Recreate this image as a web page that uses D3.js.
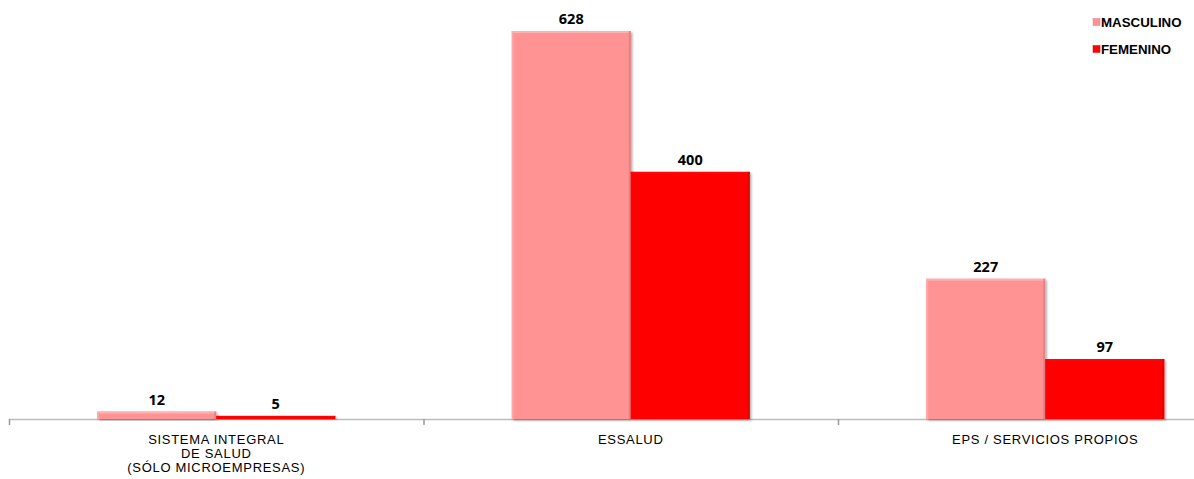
<!DOCTYPE html>
<html>
<head>
<meta charset="utf-8">
<script src="https://cdn.jsdelivr.net/npm/d3@7"></script>
<style>
  html, body { margin: 0; padding: 0; background: #fff; }
  svg { display: block; }
</style>
</head>
<body>
<svg id="chart" width="1194" height="479"></svg>
<script>
const categories = [["SISTEMA INTEGRAL", "DE SALUD", "(SÓLO MICROEMPRESAS)"], ["ESSALUD"], ["EPS / SERVICIOS PROPIOS"]];
const seriesNames = ["MASCULINO", "FEMENINO"];
const masculino = [12, 628, 227];
const femenino = [5, 400, 97];
const colors = ["#FF9393", "#FE0404"];

const svg = d3.select("#chart");
const W = 1194, H = 479;
const baseY = 419;

const catKeys = categories.map((c, i) => i);
const x = d3.scaleBand().domain(catKeys).range([9, 1252.5]).paddingInner(0).paddingOuter(0);
const y = d3.scaleLinear().domain([0, 628]).range([baseY, 31]);
const inner = d3.scaleBand().domain([0, 1]).range([0, 238]);

const defs = svg.append("defs");
const filt = defs.append("filter").attr("id", "shadow").attr("x", "-10%").attr("y", "-10%").attr("width", "130%").attr("height", "130%");
filt.append("feDropShadow").attr("dx", 1.5).attr("dy", 1.5).attr("stdDeviation", 1.2).attr("flood-color", "#000").attr("flood-opacity", 0.35);

// axis
const axisG = svg.append("g");
axisG.append("line").attr("x1", 9).attr("x2", W).attr("y1", baseY + 0.5).attr("y2", baseY + 0.5)
  .attr("stroke", "#bdbdbd").attr("stroke-width", 1.5);
const tickPos = catKeys.map(k => x(k));
axisG.selectAll("line.tick").data(tickPos).enter().append("line")
  .attr("x1", d => d + 0.5).attr("x2", d => d + 0.5).attr("y1", baseY).attr("y2", baseY + 6)
  .attr("stroke", "#9a9a9a").attr("stroke-width", 1.5);

const data = [];
catKeys.forEach(k => {
  [masculino, femenino].forEach((arr, s) => data.push({ k, s, v: arr[k] }));
});

const groupOffset = (x.bandwidth() - 238) / 2;

const bars = svg.append("g").selectAll("g.bar").data(data).enter().append("g").attr("class", "bar");
bars.each(function(d) {
  const g = d3.select(this);
  const bx = x(d.k) + groupOffset + inner(d.s);
  const by = y(d.v);
  const bw = inner.bandwidth();
  const bh = Math.max(baseY - by, 2);
  const top = baseY - bh;
  g.append("rect").attr("x", bx).attr("y", top).attr("width", bw).attr("height", bh)
    .attr("fill", colors[d.s]).attr("filter", "url(#shadow)");
  const lighter = d3.color(colors[d.s]).brighter(0.5);
  const darker = d3.color(colors[d.s]).darker(0.6);
  const b = Math.min(2, bh / 3);
  g.append("rect").attr("x", bx).attr("y", top).attr("width", bw).attr("height", b).attr("fill", lighter);
  g.append("rect").attr("x", bx).attr("y", top).attr("width", b).attr("height", bh).attr("fill", lighter).attr("opacity", 0.6);
  g.append("rect").attr("x", bx + bw - b).attr("y", top).attr("width", b).attr("height", bh).attr("fill", darker).attr("opacity", 0.6);
  g.append("text").attr("x", bx + bw / 2).attr("y", top - 7)
    .attr("text-anchor", "middle").attr("font-family", "'Open Sans', 'Liberation Sans', sans-serif")
    .attr("font-weight", "bold").attr("font-size", 14.5).attr("fill", "#000").text(d.v);
});

// category labels: one text element per line
const labelLines = [];
catKeys.forEach(k => categories[k].forEach((line, i) => labelLines.push({ k, i, line })));
svg.append("g").selectAll("text.cat").data(labelLines).enter().append("text")
  .attr("class", "cat")
  .attr("x", d => x(d.k) + groupOffset + 119)
  .attr("y", d => 443.5 + d.i * 14)
  .attr("text-anchor", "middle")
  .attr("font-family", "'Liberation Sans', Arial, sans-serif").attr("font-size", 13)
  .attr("letter-spacing", 0.7).attr("fill", "#000")
  .text(d => d.line);

// legend
const legend = svg.append("g");
seriesNames.forEach((name, i) => {
  const ly = 22 + i * 27;
  legend.append("rect").attr("x", 1093).attr("y", ly - 3.5).attr("width", 7).attr("height", 7)
    .attr("fill", colors[i]).attr("stroke", d3.color(colors[i]).darker(0.4)).attr("stroke-width", 0.5);
  legend.append("text").attr("x", 1101).attr("y", ly + 4.5)
    .attr("font-family", "'Liberation Sans', Arial, sans-serif").attr("font-weight", "bold")
    .attr("font-size", 13.3).attr("fill", "#000").text(name);
});
</script>
</body>
</html>
